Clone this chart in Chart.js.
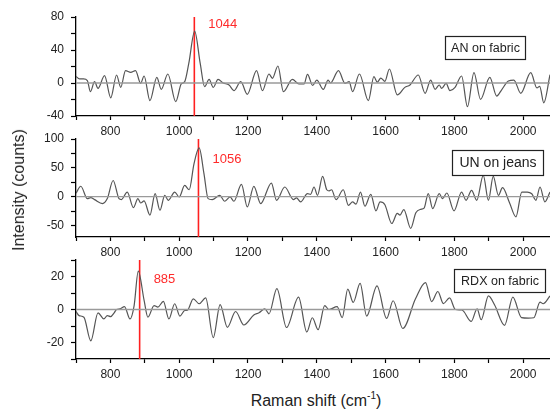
<!DOCTYPE html>
<html>
<head>
<meta charset="utf-8">
<script src="https://cdn.jsdelivr.net/npm/chart.js@4.4.0/dist/chart.umd.min.js"></script>
<style>
  body { margin: 0; background: #fff; font-family: "Liberation Sans", Arial, sans-serif; }
  #wrap { position: relative; width: 550px; height: 409px; overflow: hidden; }
  .panel { position: absolute; left: 0; }
  #ytitle { position: absolute; left: 19px; top: 190px; transform: translate(-50%, -50%) rotate(-90deg);
            font-size: 16px; color: #222; white-space: nowrap; }
  #xtitle { position: absolute; left: 316px; top: 400px; transform: translate(-50%, -50%);
            font-size: 16px; color: #222; white-space: nowrap; }
  #xtitle sup { font-size: 10px; }
</style>
</head>
<body>
<div id="wrap">
  <canvas id="c1" class="panel" width="550" height="140" style="top:0px"></canvas>
  <canvas id="c2" class="panel" width="550" height="140" style="top:120px"></canvas>
  <canvas id="c3" class="panel" width="550" height="140" style="top:240px"></canvas>
  <div id="ytitle">Intensity (counts)</div>
  <div id="xtitle">Raman shift (cm<sup>-1</sup>)</div>
</div>
<script>
// Raman shift range shown on every panel
const xMin = 700;
const xMax = 2078;

// AN on fabric
const anShift = [700, 710, 722, 733, 742, 754, 764, 783, 801, 818, 830, 844, 859, 873, 888, 898, 915, 935, 948, 967,
  990, 1006, 1016, 1028, 1045, 1061, 1074, 1087, 1099, 1113, 1128, 1145, 1159, 1179, 1198, 1225, 1242, 1261, 1271, 1287,
  1303, 1329, 1348, 1363, 1373, 1388, 1400, 1419, 1433, 1440, 1463, 1482, 1494, 1504, 1524, 1550, 1566, 1576, 1586, 1598,
  1611, 1634, 1656, 1671, 1695, 1715, 1731, 1744, 1756, 1763, 1776, 1787, 1802, 1821, 1838, 1857, 1876, 1903, 1923, 1937,
  1957, 1973, 1993, 2022, 2040, 2048, 2060, 2078];
const anCounts = [8, 5, 5, 3, -10.5, 1.6, -6.5, 9, -18, 9.7, -5.3, 15, 13, 15, -0.4, 8.5, -21.4, 6.9, -7.7, 10.9,
  -22.6, -1.2, 1.6, 24, 63, 24, -4.4, 4.4, -5.3, 4.4, 0, -2.4, -9.3, 1.6, -13.7, 15, -9.3, 10.9, 5.7, 20.6,
  -10.5, 4.4, -1.2, -1.2, 10.5, -3, 3.6, -7.7, 3.6, 0, 15, -0.4, 1.6, -10.5, 10.9, -21.4, 7.7, 1, 6, 2,
  17, -14.5, -5.3, -2.4, 9.7, -12.5, 3.6, -7.7, -2.4, -6.5, -0.4, -9.3, -5.3, 8.5, -28.7, 12.5, -19.8, 6.9, -15.8, -8.5,
  2.4, 3.6, -12.5, 12.5, -6, -4, -24, 10];

// UN on jeans
const unShift = [700, 714, 733, 743, 754, 777, 791, 808, 825, 832, 849, 867, 880, 888, 898, 915, 930, 944, 958, 968,
  987, 1000, 1016, 1029, 1043, 1058, 1072, 1084, 1096, 1118, 1132, 1148, 1159, 1181, 1198, 1217, 1237, 1268, 1283, 1307,
  1332, 1341, 1353, 1373, 1382, 1392, 1402, 1417, 1429, 1436, 1443, 1456, 1477, 1492, 1504, 1514, 1527, 1540, 1557, 1572,
  1584, 1598, 1618, 1634, 1642, 1653, 1673, 1688, 1702, 1712, 1724, 1737, 1756, 1766, 1778, 1799, 1821, 1834, 1850, 1865,
  1884, 1899, 1913, 1928, 1940, 1960, 1979, 1996, 2012, 2025, 2037, 2049, 2063, 2078];
const unCounts = [6, 18, -3.4, -1.7, -5.2, -12, -3.4, 28, -3.4, -5, 8, -19, -3.4, -11, -7.5, -32, 5.2, -23.6, 2.3, -6.3,
  8, -0.6, 19.5, 12, 57, 84.5, 40, -3.4, -5.2, 2.3, -8, -0.6, -8, 21.3, -17.8, 17.8, -12, 23.6, -6.3, 16.7,
  -5.2, -2, -9.2, 5.2, 4, 16.7, 2.3, 35, 12, 10, 12, -5.2, 12, -15, -9.2, -13, 8, -16.7, 4, -24.7,
  -9.2, -14, -46.6, -29, -32, -22.4, -55, -28, -22, -20, 5.2, -20.7, 5.2, -3.4, 6.3, -24.7, 8, -6.3, 11, -6.3,
  36.8, -6.3, 35, 2.3, 15.5, -10, -35, 8, 8, 5, -6.3, 16.7, -9.2, 8];

// RDX on fabric
const rdxShift = [700, 709, 723, 743, 764, 781, 791, 801, 811, 818, 828, 841, 857, 869, 881, 898, 909, 927, 938, 954,
  970, 987, 1002, 1016, 1024, 1041, 1058, 1077, 1099, 1119, 1140, 1164, 1188, 1217, 1232, 1249, 1261, 1284, 1312, 1347,
  1371, 1387, 1404, 1423, 1435, 1459, 1474, 1490, 1506, 1526, 1545, 1575, 1603, 1622, 1650, 1687, 1716, 1734, 1752, 1768,
  1786, 1803, 1822, 1849, 1866, 1878, 1899, 1917, 1946, 1970, 1995, 2015, 2031, 2049, 2058, 2078];
const rdxCounts = [-1.2, -3.7, -4.7, -19, -2, -5.7, -3.7, -4.3, -2, 0, 0.4, 1.8, -5.7, 2.4, 23.3, 5.5, -4.7, 2.4, 1.4, 4.9,
  -5.7, 3.5, -4, -0.6, -0.4, 6.5, 3.5, 7, -17, 3, -10.8, -1.2, -9.4, -3.3, -2, 0.4, -2.6, 12.6, -10.9, 7.5,
  -13.6, -5, -12.2, 2.4, 0, 1.7, -4.9, 12.4, 4.3, 15.8, -4, 14.3, -5.4, 5.3, -11.5, 6.5, 16.3, 4.8, 10.9, 3.6,
  7, 0, -0.3, -7.2, 0.4, -6.2, 8.2, 2.7, -9.6, 7.5, -4.9, -5.2, -5, 4.5, 3.5, 8.2];

// marked peaks
const peakShifts = [1044, 1056, 885];
const peakLabels = ['1044', '1056', '885'];
const sampleNames = ['AN on fabric', 'UN on jeans', 'RDX on fabric'];

const tickFont = { family: '"Liberation Sans", Arial, sans-serif', size: 12 };

const annotate = {
  id: 'annotate',
  afterDatasetsDraw(chart, args, o) {
    const { ctx, chartArea, scales } = chart;
    ctx.save();
    ctx.font = '13px "Liberation Sans", Arial, sans-serif';
    ctx.fillStyle = '#ff2a2a';
    ctx.textBaseline = 'middle';
    ctx.textAlign = 'left';
    ctx.fillText(o.peakText, scales.x.getPixelForValue(o.peak) + 14, scales.y.getPixelForValue(o.peakY));

    // sample name box
    const bx = chartArea.right - o.box.right - o.box.w;
    const by = chartArea.top + o.box.top;
    ctx.fillStyle = '#fff';
    ctx.fillRect(bx, by, o.box.w, o.box.h);
    ctx.strokeStyle = '#222';
    ctx.lineWidth = 1.2;
    ctx.strokeRect(bx + 0.5, by + 0.5, o.box.w, o.box.h);
    ctx.fillStyle = '#222';
    ctx.font = o.box.size + 'px "Liberation Sans", Arial, sans-serif';
    ctx.textAlign = 'center';
    ctx.fillText(o.name, bx + o.box.w / 2 + 0.5, by + o.box.h / 2 + 1);
    ctx.restore();
  }
};

function makePanel(id, shift, counts, i, p) {
  const pts = shift.map((x, k) => ({ x: x, y: counts[k] }));
  return new Chart(document.getElementById(id), {
    type: 'line',
    plugins: [annotate],
    data: {
      datasets: [
        { data: [{ x: xMin, y: 0 }, { x: xMax, y: 0 }], borderColor: '#9a9a9a', borderWidth: 1.3, pointRadius: 0 },
        { data: pts, borderColor: '#555', borderWidth: 1.2, pointRadius: 0, cubicInterpolationMode: 'monotone' },
        { data: [{ x: peakShifts[i], y: p.yMin }, { x: peakShifts[i], y: p.yMax }], borderColor: '#ff2020', borderWidth: 1.6, pointRadius: 0 }
      ]
    },
    options: {
      responsive: false,
      animation: false,
      events: [],
      layout: { padding: { top: p.padTop, left: 0, right: 0, bottom: 0 } },
      plugins: {
        legend: { display: false },
        tooltip: { enabled: false },
        annotate: { peak: peakShifts[i], peakText: peakLabels[i], peakY: p.labelY, name: sampleNames[i], box: p.box }
      },
      scales: {
        x: {
          type: 'linear',
          min: xMin,
          max: xMax,
          afterFit: s => { s.height = p.xAxisH; },
          grid: { drawOnChartArea: false, tickLength: 4, tickColor: '#000', tickWidth: 1.2 },
          border: { color: '#000', width: 1.3 },
          ticks: {
            stepSize: 100, includeBounds: false, autoSkip: false, maxRotation: 0, padding: 4,
            color: '#222', font: tickFont,
            callback: v => (v % 200 === 0 ? String(v) : '')
          }
        },
        y: {
          min: p.yMin,
          max: p.yMax,
          afterFit: s => { s.width = 76; },
          grid: { drawOnChartArea: false, tickLength: 5, tickColor: '#000', tickWidth: 1.2 },
          border: { color: '#000', width: 1.3 },
          ticks: {
            stepSize: p.step, includeBounds: false, autoSkip: false, padding: 7,
            color: '#222', font: tickFont,
            callback: v => (Math.abs(v % p.labelEvery) < 1e-6 ? String(v) : '')
          }
        }
      }
    }
  });
}

makePanel('c1', anShift, anCounts, 0, {
  yMin: -40, yMax: 80, step: 20, labelEvery: 40, padTop: 17, xAxisH: 24, labelY: 71,
  box: { right: 25, top: 19, w: 80, h: 23, size: 12.5 }
});
makePanel('c2', unShift, unCounts, 1, {
  yMin: -70, yMax: 100, step: 25, labelEvery: 50, padTop: 19, xAxisH: 23, labelY: 65,
  box: { right: 7, top: 11, w: 91, h: 25, size: 14 }
});
makePanel('c3', rdxShift, rdxCounts, 2, {
  yMin: -30, yMax: 30, step: 10, labelEvery: 20, padTop: 20, xAxisH: 21, labelY: 18.3,
  box: { right: 5, top: 9, w: 91, h: 23, size: 12.5 }
});
</script>
</body>
</html>
